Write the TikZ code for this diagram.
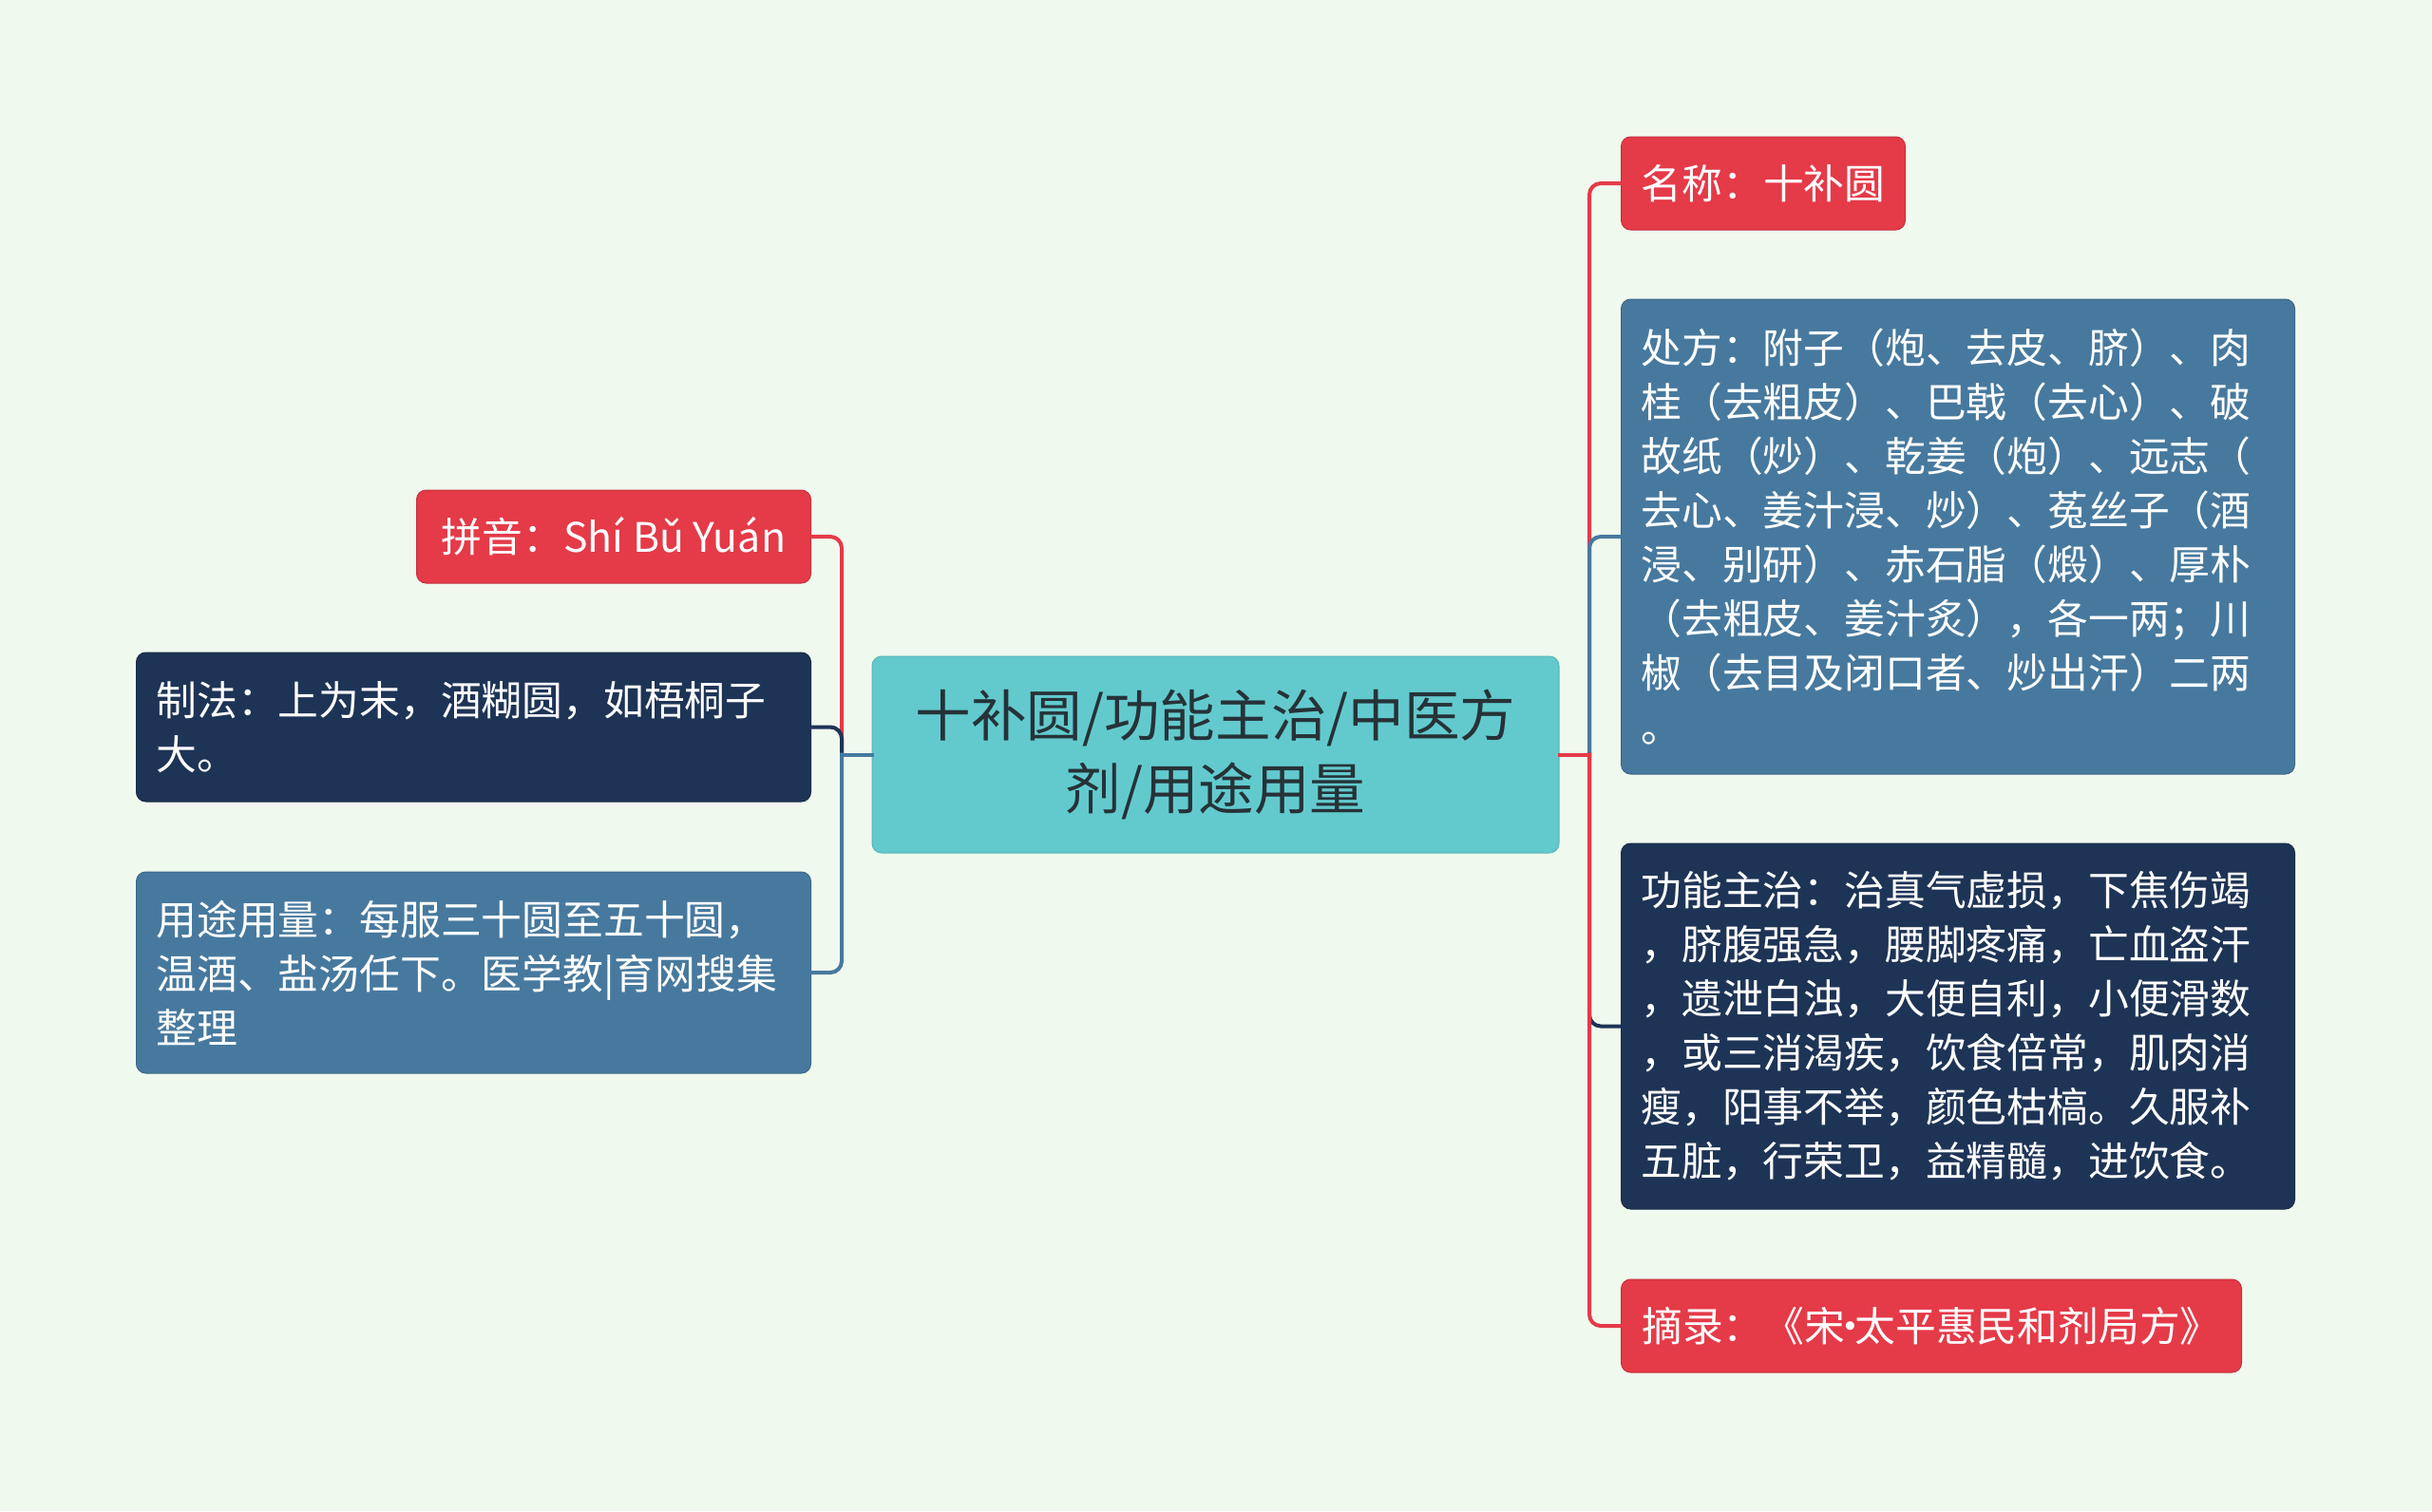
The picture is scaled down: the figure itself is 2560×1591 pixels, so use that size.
\documentclass[tikz,border=0pt]{standalone}
\usepackage{fontspec}
\setmainfont{Noto Sans CJK SC}
\usepackage{tikz}
\usetikzlibrary{positioning}
\definecolor{bgcol}{HTML}{F0F9EE}
\definecolor{cred}{HTML}{E53A48}
\definecolor{cnavy}{HTML}{1E3456}
\definecolor{cblue}{HTML}{47799E}
\definecolor{cteal}{HTML}{62CACD}
\definecolor{ctext}{HTML}{263238}
\tikzset{
    hub/.style={
           rectangle,
           rounded corners=5pt,
           fill=cteal, draw=cteal!90!black, line width=0.5pt,
           text=ctext,
           minimum width=361.5pt,
           minimum height=103.5pt,
           align=center,
           font=\fontsize{29.3pt}{38.5pt}\selectfont,
           },
    leaf/.style={
           rectangle,
           rounded corners=5pt,
           fill=#1, draw=#1!85!black, line width=0.5pt,
           text=white,
           inner xsep=10.5pt, inner ysep=0pt,
           align=left,
           font=\fontsize{21.4pt}{28.5pt}\selectfont,
           },
    link/.style={
           line width=2pt,
           line cap=rect,
           rounded corners=6pt,
           },
}
\begin{document}
\begin{tikzpicture}[x=0.5pt, y=-0.5pt]
    \fill[bgcol] (0,0) rectangle (2560,1591);
    \useasboundingbox (0,0) rectangle (2560,1591);

    % where the branches split
    \coordinate (rj) at (1673,794.5);
    \coordinate (lj) at (886,794.5);

    % Topic in the middle
    \node[hub, anchor=center] (hub) at (1279.5,794.5)
    {十补圆/功能主治/中医方\\剂/用途用量};

    % right side
    \node[leaf=cred, anchor=west,
    minimum width=149.5pt, minimum height=49pt] (name) at (1706,193)
    {名称：十补圆};

    \node[leaf=cblue, anchor=west,
    text width=333.5pt, minimum height=250pt] (recipe) at (1706,565)
    {处方：附子（炮、去皮、脐）、肉\\
     桂（去粗皮）、巴戟（去心）、破\\
     故纸（炒）、乾姜（炮）、远志（\\
     去心、姜汁浸、炒）、菟丝子（酒\\
     浸、别研）、赤石脂（煅）、厚朴\\
     （去粗皮、姜汁炙），各一两；川\\
     椒（去目及闭口者、炒出汗）二两\\
     。};

    \node[leaf=cnavy, anchor=west,
    text width=333.5pt, minimum height=192.5pt] (func) at (1706,1080.5)
    {功能主治：治真气虚损，下焦伤竭\\
     ，脐腹强急，腰脚疼痛，亡血盗汗\\
     ，遗泄白浊，大便自利，小便滑数\\
     ，或三消渴疾，饮食倍常，肌肉消\\
     瘦，阳事不举，颜色枯槁。久服补\\
     五脏，行荣卫，益精髓，进饮食。};

    \node[leaf=cred, anchor=west,
    minimum width=326.5pt, minimum height=49pt] (source) at (1706,1396)
    {摘录：《宋\kern-0.38em·\kern-0.38em太平惠民和剂局方》};

    % left side
    \node[leaf=cred, anchor=east,
    minimum width=207.5pt, minimum height=49pt] (pinyin) at (854,565)
    {拼音：Shí Bǔ Yuán};

    \node[leaf=cnavy, anchor=east,
    text width=334pt, minimum height=78.5pt] (method) at (854,765.5)
    {制法：上为末，酒糊圆，如梧桐子\\
     大。};

    \node[leaf=cblue, anchor=east,
    text width=334pt, minimum height=106pt] (dose) at (854,1024)
    {用途用量：每服三十圆至五十圆，\\
     温酒、盐汤任下。医学教|育网搜集\\
     整理};

    % the branches
    \draw[link, cred]  (rj) |- (name.west);
    \draw[link, cblue] (rj) |- (recipe.west);
    \draw[link, cnavy] (rj) |- (func.west);
    \draw[link, cred]  (rj) |- (source.west);
    \draw[link, cred]  (hub.east) -- (rj);

    \draw[link, cred]  (lj) |- (pinyin.east);
    \draw[link, cnavy] (lj) |- (method.east);
    \draw[link, cblue] (lj) |- (dose.east);
    \draw[link, cblue] (hub.west) -- (lj);
\end{tikzpicture}
\end{document}
